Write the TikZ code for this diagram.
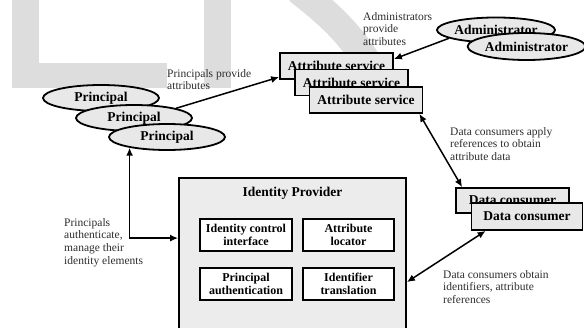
\documentclass[tikz,border=0pt]{standalone}
\usepackage{fontspec}
\setmainfont{Liberation Serif}
\usetikzlibrary{shapes.geometric,arrows.meta,calc}
\definecolor{markgray}{RGB}{221,221,221}
\definecolor{shade}{RGB}{232,232,232}
\definecolor{panel}{RGB}{236,236,236}
\definecolor{notegray}{RGB}{45,45,45}
\tikzset{
  actor/.style={ellipse, draw, line width=1.8pt, fill=shade, minimum width=116pt,
    minimum height=26pt, inner sep=0pt, font=\fontsize{13.5}{15}\selectfont\bfseries},
  service/.style={rectangle, draw, line width=1.8pt, fill=shade, minimum width=113pt,
    minimum height=26pt, inner sep=0pt, font=\fontsize{13.5}{15}\selectfont\bfseries},
  part/.style={rectangle, draw, line width=1.4pt, fill=white, minimum width=92pt,
    minimum height=32pt, inner sep=0pt, align=center, font=\fontsize{12}{13.3}\selectfont\bfseries},
  caption/.style={anchor=north west, inner sep=0pt, align=left, text=notegray,
    font=\fontsize{11.5}{12.8}\selectfont},
  tip/.tip={Latex[length=8pt,width=7pt]},
  flow/.style={line width=1.5pt, -tip},
  both/.style={line width=1.5pt, tip-tip},
}
\begin{document}
\begin{tikzpicture}[x=1pt, y=-1pt]
\useasboundingbox (0,0) rectangle (584,328);
\clip (0,0) rectangle (584,328);

% faint lettering in the background
\fill[markgray] (12,0) rectangle (39,88);
\fill[markgray] (12,63) rectangle (167,88);
\fill[markgray] (204,0) rectangle (231,88);
\draw[markgray, line width=28pt] (298,-10) .. controls (330,15) and (360,40) .. (385,95);

% principals
\node[actor] (p1) at (101,98) {Principal};
\node[actor] (p2) at (134,118) {Principal};
\node[actor] (p3) at (167,137) {Principal};

% attribute services
\node[service] (as1) at (336.5,66) {Attribute service};
\node[service] (as2) at (351.5,82.5) {Attribute service};
\node[service] (as3) at (366,100) {Attribute service};

% administrators
\node[actor, minimum width=118pt, minimum height=25pt] (a1) at (496,30) {Administrator};
\node[actor, minimum width=113pt, minimum height=27pt] (a2) at (526.5,46.5) {Administrator};

% data consumers
\node[service, minimum height=25pt] (dc1) at (512.5,200.5) {Data consumer};
\node[service, minimum width=111pt, minimum height=27pt] (dc2) at (527,216.5) {Data consumer};

% identity provider
\node[rectangle, draw, line width=1.8pt, fill=panel, minimum width=227pt,
  minimum height=162pt, inner sep=0pt] (idp) at (292.5,259) {};
\node[font=\fontsize{13.5}{15}\selectfont\bfseries, inner sep=0pt] (idptitle)
  at ($(idp.north)+(0,16)$) {Identity Provider};
\node[part] (ici) at (246,235) {Identity control\\interface};
\node[part, minimum width=91pt] (al) at (348.5,235) {Attribute\\locator};
\node[part] (pa) at (246,284) {Principal\\authentication};
\node[part, minimum width=91pt] (it) at (348.5,284) {Identifier\\translation};

% connectors
\draw[flow] (p2.13) -- ($(as1.west)!0.8!(as1.south west)$);
\draw[flow] (a1.190) -- ($(as1.north east)!0.25!(as1.south east)$);
\draw[both] ($(as3.south east)+(-4,0)$) -- ($(dc1.north west)+(7,0)$);
\draw[both] ($(dc2.south west)+(15,0)$) -- ($(idp.north east)+(0,105)$);
\draw[both] (p3.196) |- ($(idp.north west)+(0,61)$);

% captions
\node[caption] (c1) at (167,69) {Principals provide\\attributes};
\node[caption] (c2) at (363,12) {Administrators\\provide\\attributes};
\node[caption] (c3) at (450,127) {Data consumers apply\\references to obtain\\attribute data};
\node[caption] (c4) at (443,270) {Data consumers obtain\\identifiers, attribute\\references};
\node[caption] (c5) at (64,218) {Principals\\authenticate,\\manage their\\identity elements};
\end{tikzpicture}
\end{document}
